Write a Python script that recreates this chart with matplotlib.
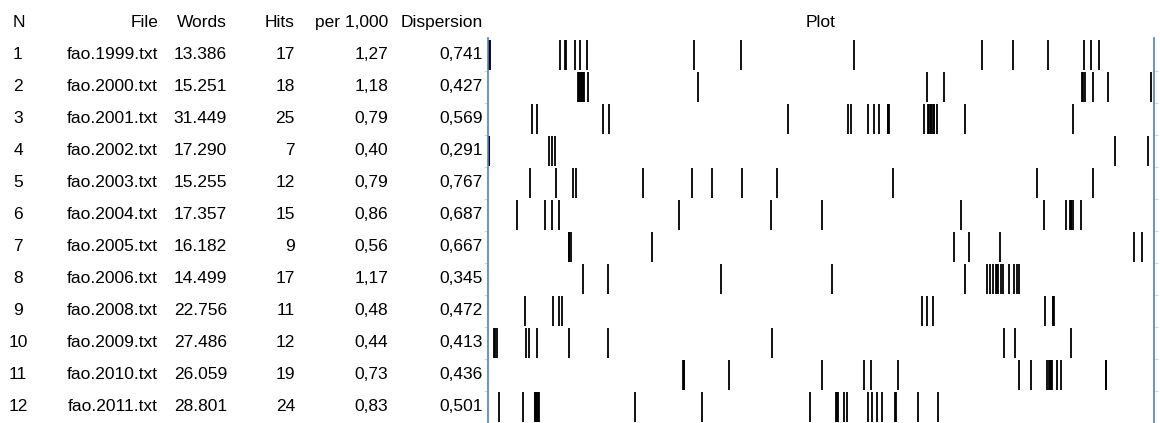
import matplotlib
matplotlib.use('Agg')
import matplotlib.pyplot as plt
import matplotlib.transforms as mtransforms

plt.rcParams['font.family'] = ['Liberation Sans', 'DejaVu Sans']

# concordance dispersion table
files = ['fao.1999.txt', 'fao.2000.txt', 'fao.2001.txt', 'fao.2002.txt', 'fao.2003.txt', 'fao.2004.txt',
         'fao.2005.txt', 'fao.2006.txt', 'fao.2008.txt', 'fao.2009.txt', 'fao.2010.txt', 'fao.2011.txt']
words = [13386, 15251, 31449, 17290, 15255, 17357, 16182, 14499, 22756, 27486, 26059, 28801]
hits = [17, 18, 25, 7, 12, 15, 9, 17, 11, 12, 19, 24]
per_1000 = [1.27, 1.18, 0.79, 0.40, 0.79, 0.86, 0.56, 1.17, 0.48, 0.44, 0.73, 0.83]
dispersion = [0.741, 0.427, 0.569, 0.291, 0.767, 0.687, 0.667, 0.345, 0.472, 0.413, 0.436, 0.501]

# hit positions, % of the way through each file
pos_1999 = [0.2, 0.3, 10.8, 11.6, 11.7, 13.1, 13.8, 14.8, 30.9, 38.0, 55.0, 74.2, 78.8, 84.1, 89.5, 90.5, 91.7]
pos_2000 = [13.5, 13.6, 13.7, 13.8, 13.9, 14.1, 14.2, 14.4, 15.0, 31.5, 65.9, 68.5, 89.2, 89.4, 89.6, 90.8,
            93.1, 99.5]
pos_2001 = [6.6, 7.3, 17.3, 18.2, 45.1, 54.1, 54.5, 57.0, 57.9, 58.7, 60.1, 60.1, 60.2, 65.4, 66.1, 66.2,
            66.5, 66.5, 66.6, 66.9, 66.9, 67.0, 67.4, 71.6, 87.8]
pos_2002 = [0.1, 0.2, 9.2, 9.6, 10.1, 94.1, 99.1]
pos_2003 = [6.3, 10.2, 12.8, 13.2, 23.3, 30.7, 33.6, 38.1, 43.4, 60.8, 82.4, 90.8]
pos_2004 = [4.4, 8.6, 9.6, 10.7, 28.7, 42.5, 50.2, 71.0, 83.5, 86.8, 87.4, 87.5, 87.6, 87.8, 89.1]
pos_2005 = [12.2, 12.2, 12.5, 24.6, 70.0, 72.2, 76.9, 97.0, 98.2]
pos_2006 = [14.2, 18.0, 35.0, 51.6, 71.6, 74.9, 75.4, 75.9, 76.3, 76.4, 76.6, 77.0, 77.3, 78.2, 79.0, 79.5,
            79.7]
pos_2008 = [5.5, 9.8, 10.7, 11.1, 65.1, 65.9, 66.8, 83.6, 84.8, 84.9, 85.0]
pos_2009 = [0.9, 1.1, 1.3, 5.7, 6.1, 7.3, 12.1, 18.0, 42.7, 77.5, 79.1, 87.6]
pos_2010 = [29.3, 29.4, 29.5, 36.2, 50.2, 56.4, 57.5, 61.6, 79.7, 81.6, 84.0, 84.2, 84.35, 84.5, 84.7, 85.5,
            86.1, 92.8, 92.8]
pos_2011 = [1.7, 5.2, 7.0, 7.1, 7.2, 7.4, 7.5, 7.6, 22.1, 32.1, 48.4, 52.3, 52.4, 52.5, 53.5, 53.9, 57.1,
            57.6, 58.4, 59.2, 61.1, 61.3, 64.5, 67.6]
positions = [pos_1999, pos_2000, pos_2001, pos_2002, pos_2003, pos_2004,
             pos_2005, pos_2006, pos_2008, pos_2009, pos_2010, pos_2011]

W, H = 1160, 423
fig = plt.figure(figsize=(W / 100, H / 100), dpi=100)
ax = fig.add_axes([488 / W, 0, (1154 - 488) / W, (423 - 38) / H])

n = len(files)
rows = list(range(1, n + 1))
for r, pos in zip(rows, positions):
    ax.vlines(pos, r - 0.47, r + 0.47, color='black', linewidth=1.3)

ax.set_xlim(0, 100)
ax.set_ylim(12.5, 0.47)
for s in ['top', 'bottom']:
    ax.spines[s].set_visible(False)
for s in ['left', 'right']:
    ax.spines[s].set_color('#4f7fd8')
    ax.spines[s].set_linewidth(1.2)
ax.set_xticks([])
ax.set_yticks([r + 0.5 for r in rows[:-1]])
ax.tick_params(axis='y', left=True, right=True, length=3, width=0.8, color='#d4dbe6',
               labelleft=False, direction='out')

# table text: x in figure pixels, y in row units
trans = mtransforms.blended_transform_factory(
    mtransforms.Affine2D().scale(1 / W, 1) + fig.transFigure, ax.transData)
fs = 12.5
headers = [('N', 19, 'center'), ('File', 158, 'right'), ('Words', 227, 'right'), ('Hits', 295, 'right'),
           ('per 1,000', 388, 'right'), ('Dispersion', 483, 'right')]
for txt, x, ha in headers:
    ax.text(x, 0, txt, transform=trans, ha=ha, va='center', fontsize=fs)
ax.text(50, 0, 'Plot', ha='center', va='center', fontsize=fs)

for i, r in enumerate(rows):
    cells = [(str(r), 18, 'center'),
             (files[i], 158, 'right'),
             (f'{words[i]:,}'.replace(',', '.'), 227, 'right'),
             (str(hits[i]), 295, 'right'),
             (f'{per_1000[i]:.2f}'.replace('.', ','), 388, 'right'),
             (f'{dispersion[i]:.3f}'.replace('.', ','), 483, 'right')]
    for txt, x, ha in cells:
        ax.text(x, r, txt, transform=trans, ha=ha, va='center', fontsize=fs)

fig.savefig('out.png', dpi=100)
